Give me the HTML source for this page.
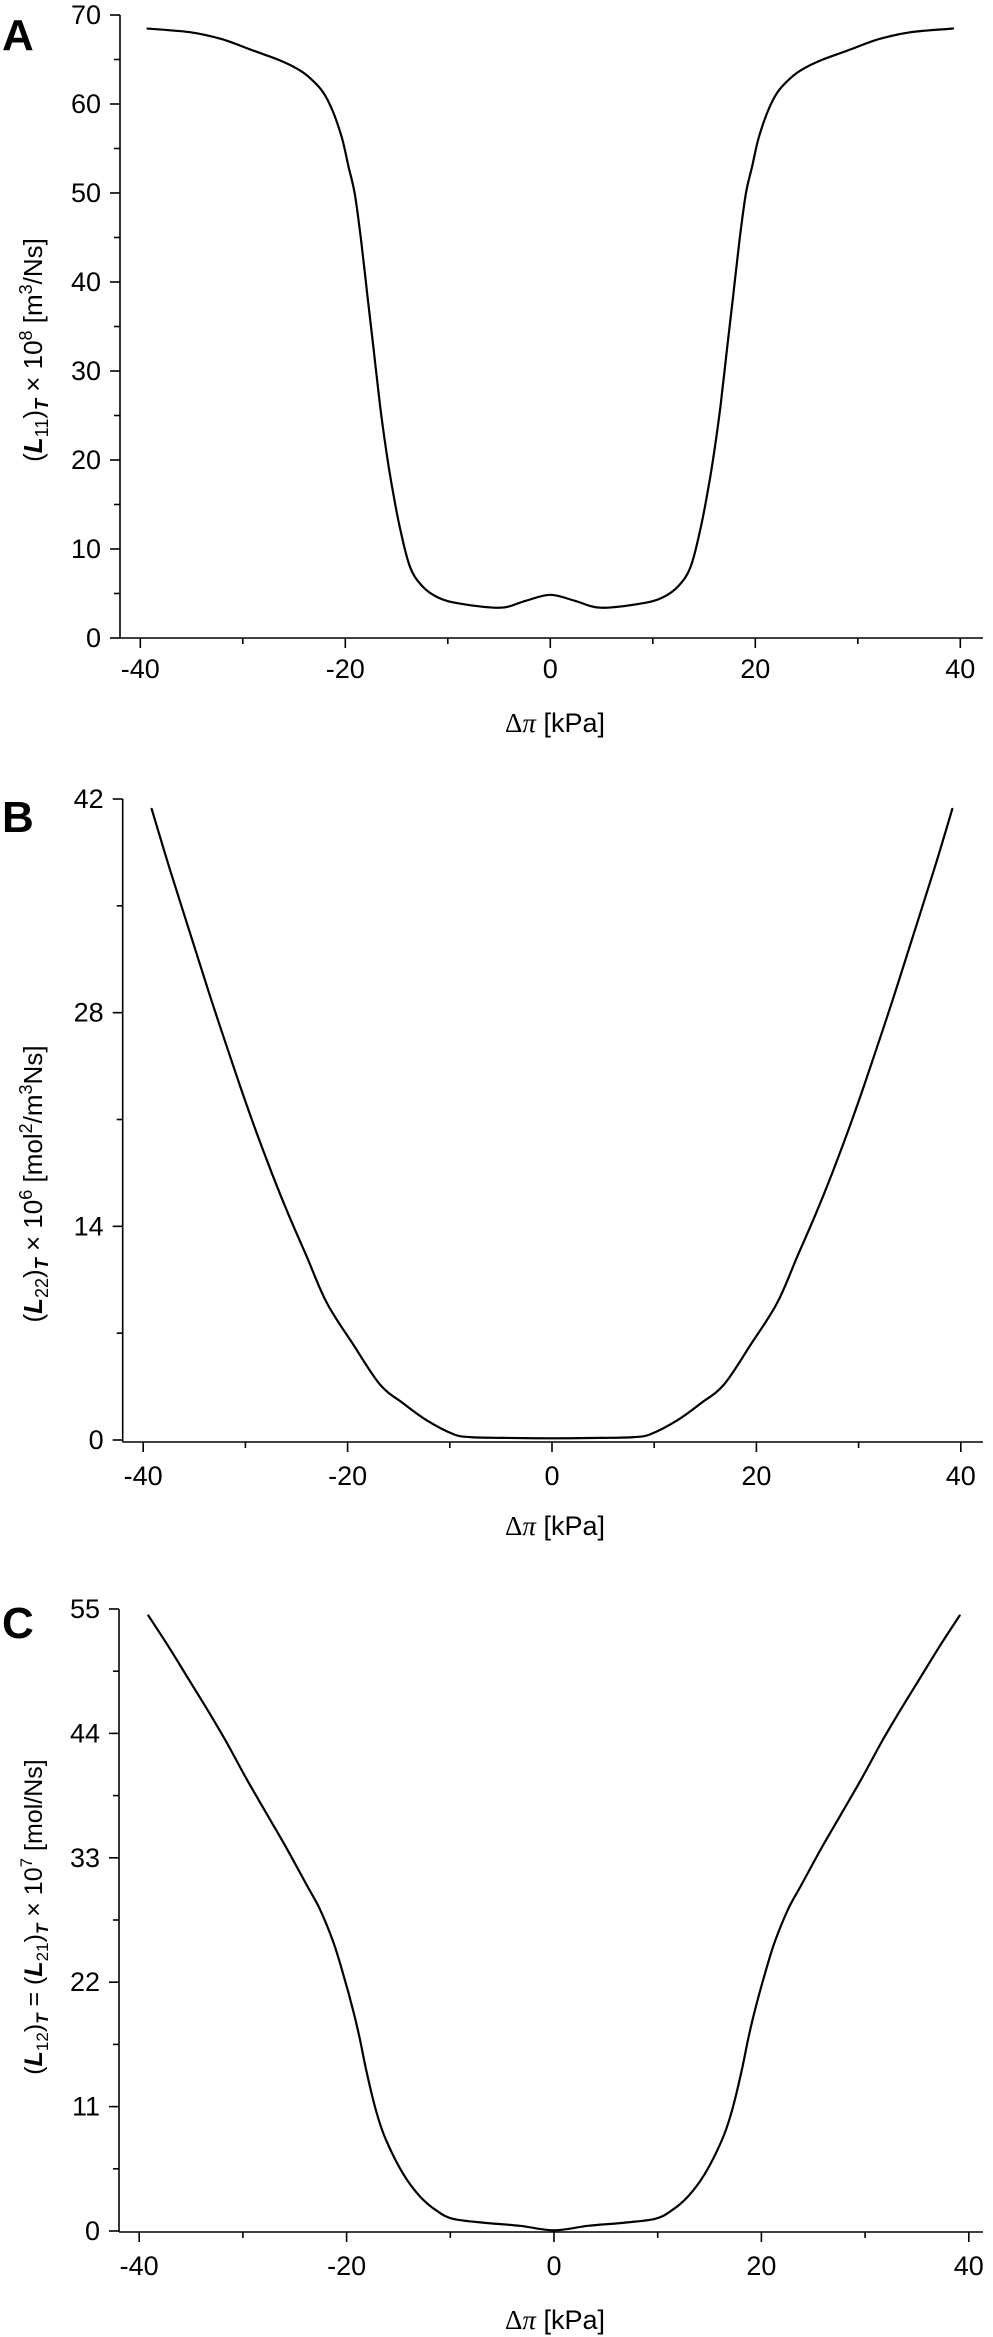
<!DOCTYPE html>
<html><head><meta charset="utf-8"><style>
html,body{margin:0;padding:0;background:#fff}
svg{display:block}
text{font-family:"Liberation Sans",sans-serif;fill:#000}
</style></head><body>
<svg id="s" width="993" height="2337" viewBox="0 0 993 2337" xmlns="http://www.w3.org/2000/svg">
<g stroke="#000" stroke-width="1.6" fill="none" id="axes"></g>
<g id="curves" stroke="#000" stroke-width="2.2" fill="none" stroke-linejoin="round" stroke-linecap="round"></g>
<g id="labels" font-size="27"></g>

<text x="2" y="50" font-size="44" font-weight="bold">A</text>
<text x="2" y="832" font-size="44" font-weight="bold">B</text>
<text x="2" y="1638" font-size="44" font-weight="bold">C</text>

<text x="555" y="732" font-size="27" text-anchor="middle"><tspan font-family="Liberation Serif,serif">Δ</tspan><tspan font-family="Liberation Serif,serif" font-style="italic">π</tspan> [kPa]</text>
<text x="555" y="1535" font-size="27" text-anchor="middle"><tspan font-family="Liberation Serif,serif">Δ</tspan><tspan font-family="Liberation Serif,serif" font-style="italic">π</tspan> [kPa]</text>
<text x="555" y="2329" font-size="27" text-anchor="middle"><tspan font-family="Liberation Serif,serif">Δ</tspan><tspan font-family="Liberation Serif,serif" font-style="italic">π</tspan> [kPa]</text>

<text transform="translate(42,350) rotate(-90)" font-size="26" text-anchor="middle">(<tspan font-weight="bold" font-style="italic">L</tspan><tspan font-size="18" dy="6">11</tspan><tspan dy="-6">)</tspan><tspan font-size="18" dy="6" font-weight="bold" font-style="italic">T</tspan><tspan dy="-6"> × 10</tspan><tspan font-size="18" dy="-10">8</tspan><tspan dy="10"> [m</tspan><tspan font-size="18" dy="-10">3</tspan><tspan dy="10">/Ns]</tspan></text>
<text transform="translate(42,1184) rotate(-90)" font-size="26" text-anchor="middle">(<tspan font-weight="bold" font-style="italic">L</tspan><tspan font-size="18" dy="6">22</tspan><tspan dy="-6">)</tspan><tspan font-size="18" dy="6" font-weight="bold" font-style="italic">T</tspan><tspan dy="-6"> × 10</tspan><tspan font-size="18" dy="-10">6</tspan><tspan dy="10"> [mol</tspan><tspan font-size="18" dy="-10">2</tspan><tspan dy="10">/m</tspan><tspan font-size="18" dy="-10">3</tspan><tspan dy="10">Ns]</tspan></text>
<text transform="translate(42,1917) rotate(-90)" font-size="25" text-anchor="middle">(<tspan font-weight="bold" font-style="italic">L</tspan><tspan font-size="17" dy="6">12</tspan><tspan dy="-6">)</tspan><tspan font-size="17" dy="6" font-weight="bold" font-style="italic">T</tspan><tspan dy="-6"> = (</tspan><tspan font-weight="bold" font-style="italic">L</tspan><tspan font-size="17" dy="6">21</tspan><tspan dy="-6">)</tspan><tspan font-size="17" dy="6" font-weight="bold" font-style="italic">T</tspan><tspan dy="-6"> × 10</tspan><tspan font-size="17" dy="-10">7</tspan><tspan dy="10"> [mol/Ns]</tspan></text>
</svg>
<script>
var NS="http://www.w3.org/2000/svg";
var axes=document.getElementById('axes'),labels=document.getElementById('labels'),curves=document.getElementById('curves');
function el(p,t,a,txt){var e=document.createElementNS(NS,t);for(var k in a)e.setAttribute(k,a[k]);if(txt!=null)e.textContent=txt;p.appendChild(e);return e;}
function line(x1,y1,x2,y2){el(axes,'line',{x1:x1,y1:y1,x2:x2,y2:y2});}
function panel(o){
  line(o.ax,o.yTop,o.ax,o.xAxY);
  line(o.ax,o.xAxY,983,o.xAxY);
  var n=o.yTicks.length;
  for(var i=0;i<n;i++){
    var y=o.y0+(o.yTop-o.y0)*i/(n-1);
    line(o.ax-10,y,o.ax,y);
    el(labels,'text',{x:o.ax-19,y:y+9,'text-anchor':'end'},o.yTicks[i]);
    if(i<n-1){var ym=y+(o.yTop-o.y0)/(n-1)/2;line(o.ax-6,ym,o.ax,ym);}
  }
  for(var v=-40;v<=40;v+=10){
    var x=o.cx+v*o.sx;
    var major=(v%20===0);
    line(x,o.xAxY,x,o.xAxY+(major?10:6));
    if(major) el(labels,'text',{x:x,y:o.lblY,'text-anchor':'middle'},String(v));
  }
}
function smooth(pts){
  var d="M"+pts[0][0]+","+pts[0][1];
  for(var i=0;i<pts.length-1;i++){
    var p0=pts[i-1]||pts[i],p1=pts[i],p2=pts[i+1],p3=pts[i+2]||p2;
    var c1=[p1[0]+(p2[0]-p0[0])/6,p1[1]+(p2[1]-p0[1])/6];
    var c2=[p2[0]-(p3[0]-p1[0])/6,p2[1]-(p3[1]-p1[1])/6];
    d+=" C"+c1[0].toFixed(1)+","+c1[1].toFixed(1)+" "+c2[0].toFixed(1)+","+c2[1].toFixed(1)+" "+p2[0].toFixed(1)+","+p2[1].toFixed(1);
  }
  return d;
}
function curve(zpts,fx,fy,mir){
  var L=zpts.map(function(p){return [fx(p[0]),fy(p[1])];});
  var R=L.slice(0,-1).reverse().map(function(p){return [mir-p[0],p[1]];});
  el(curves,'path',{d:smooth(L.concat(R))});
}
// Panel A
panel({ax:120,yTop:15,y0:638,xAxY:638,cx:550.3,sx:10.25,yTicks:['0','10','20','30','40','50','60','70'],lblY:678});
curve([[233,62],[300,70],[350,85],[400,110],[440,130],[470,150],[490,170],[510,200],[525,240],[540,300],[550,360],[560,420],[570,520],[580,640],[590,760],[600,880],[610,980],[620,1065],[632,1150],[647,1230],[666,1272],[692,1298],[726,1311],[790,1320],[830,1305],[869,1292]],
 function(x){return x/1.579;},function(y){return y/2.172;},1100.6);
// Panel B
panel({ax:122.7,yTop:799,y0:1440,xAxY:1442,cx:552,sx:10.22,yTicks:['0','14','28','42'],lblY:1485});
curve([[95,45],[150,190],[210,340],[270,490],[320,610],[380,750],[440,880],[500,1000],[560,1110],[620,1220],[700,1320],[780,1415],[850,1460],[920,1500],[1000,1533],[1050,1540],[1150,1542],[1296,1543]],
 function(x){return 120+x/3;},function(y){return 790+y/2.38;},1104);
// Panel C
panel({ax:119,yTop:1609,y0:2231,xAxY:2232,cx:554,sx:10.37,yTicks:['0','11','22','33','44','55'],lblY:2275});
curve([[85,38],[150,120],[210,200],[270,280],[320,350],[380,440],[440,525],[500,610],[560,700],[600,760],[640,840],[670,920],[700,1010],[720,1080],[740,1160],[770,1260],[800,1330],[850,1410],[900,1465],[950,1500],[1000,1520],[1100,1530],[1200,1537],[1302,1548]],
 function(x){return 120+x/3;},function(y){return 1600+y/2.456;},1108);
</script>
</body></html>
